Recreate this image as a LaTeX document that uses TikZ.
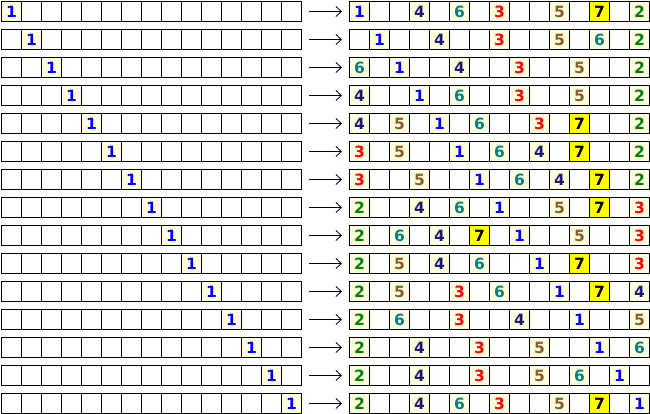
\documentclass[tikz,border=0pt]{standalone}
\usepackage{fontspec}
\setmainfont{DejaVu Sans}
\usetikzlibrary{arrows.meta}
\definecolor{cellbg}{HTML}{FFFFE0}
\definecolor{hiyel}{HTML}{FFFF00}
\definecolor{cone}{HTML}{0000FF}
\definecolor{ctwo}{HTML}{008000}
\definecolor{cthree}{HTML}{FF0000}
\definecolor{cfour}{HTML}{191970}
\definecolor{cfive}{HTML}{8B5A2B}
\definecolor{csix}{HTML}{008080}
\definecolor{cseven}{HTML}{000000}
\tikzset{
  x=1pt, y=1pt,
  cell/.style={draw=black, line width=0.9pt, minimum size=20pt, inner sep=0pt, outer sep=0pt,
    font=\fontsize{15.5}{15.5}\selectfont\bfseries},
  dg/.style={cell, fill=cellbg},
  d1/.style={dg, text=cone},
  d2/.style={dg, text=ctwo},
  d3/.style={dg, text=cthree},
  d4/.style={dg, text=cfour},
  d5/.style={dg, text=cfive},
  d6/.style={dg, text=csix},
  d7/.style={cell, fill=hiyel, text=cseven},
  arr/.style={-{Straight Barb[length=5.5pt,width=10pt]}, line width=0.8pt, shorten <=7.5pt, shorten >=7.5pt}
}
\begin{document}
\begin{tikzpicture}
\useasboundingbox (0,0) rectangle (650,-414);
\foreach \r/\lst in {
 0/{0/1,3/4,5/6,7/3,10/5,12/7,14/2},
 1/{1/1,4/4,7/3,10/5,12/6,14/2},
 2/{0/6,2/1,5/4,8/3,11/5,14/2},
 3/{0/4,3/1,5/6,8/3,11/5,14/2},
 4/{0/4,2/5,4/1,6/6,9/3,11/7,14/2},
 5/{0/3,2/5,5/1,7/6,9/4,11/7,14/2},
 6/{0/3,3/5,6/1,8/6,10/4,12/7,14/2},
 7/{0/2,3/4,5/6,7/1,10/5,12/7,14/3},
 8/{0/2,2/6,4/4,6/7,8/1,11/5,14/3},
 9/{0/2,2/5,4/4,6/6,9/1,11/7,14/3},
 10/{0/2,2/5,5/3,7/6,10/1,12/7,14/4},
 11/{0/2,2/6,5/3,8/4,11/1,14/5},
 12/{0/2,3/4,6/3,9/5,12/1,14/6},
 13/{0/2,3/4,6/3,9/5,11/6,13/1},
 14/{0/2,3/4,5/6,7/3,10/5,12/7,14/1}} {
  \pgfmathsetmacro{\yc}{-(11.5+28*\r)}
  % left grid
  \foreach \c in {0,...,14} {
    \node[cell] (L-\r-\c) at ({11.5+20*\c},\yc) {};
  }
  \node[d1] (LD-\r) at ({11.5+20*\r},\yc) {1};
  % right grid
  \foreach \c in {0,...,14} {
    \node[cell] (R-\r-\c) at ({359.5+20*\c},\yc) {};
  }
  \foreach \c/\v in \lst {
    \node[d\v] (RD-\r-\c) at ({359.5+20*\c},\yc) {\v};
  }
  \draw[arr] (L-\r-14) -- (R-\r-0);
}
\end{tikzpicture}
\end{document}
